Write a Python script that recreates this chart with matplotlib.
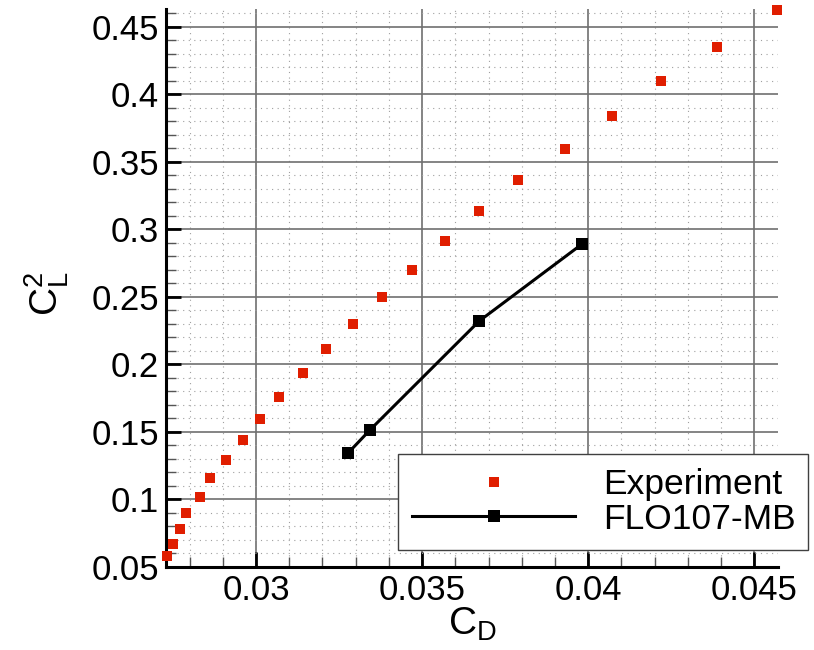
import matplotlib
matplotlib.use('Agg')
import matplotlib.pyplot as plt
from matplotlib.ticker import MultipleLocator

plt.rcParams['font.family'] = ['Liberation Sans', 'DejaVu Sans']
plt.rcParams['mathtext.fontset'] = 'custom'
plt.rcParams['mathtext.rm'] = 'Liberation Sans'
plt.rcParams['mathtext.it'] = 'Liberation Sans'

# experiment data (C_D, C_L^2)
exp_cd = [0.02732, 0.02750, 0.02771, 0.02789, 0.02831, 0.02861, 0.02910, 0.02961,
          0.03012, 0.03069, 0.03142, 0.03211, 0.03292, 0.03380, 0.03470, 0.03569,
          0.03672, 0.03789, 0.03931, 0.04072, 0.04220, 0.04389, 0.04569]
exp_cl2 = [0.0581, 0.0670, 0.0782, 0.0900, 0.1019, 0.1159, 0.1293, 0.1441,
           0.1596, 0.1759, 0.1937, 0.2115, 0.2300, 0.2500, 0.2700, 0.2915,
           0.3137, 0.3367, 0.3596, 0.3841, 0.4100, 0.4352, 0.4626]

# FLO107-MB computation
flo_cd = [0.03277, 0.03343, 0.03672, 0.03982]
flo_cl2 = [0.1344, 0.1515, 0.2322, 0.2893]

xticks = [0.03, 0.035, 0.04, 0.045]
xticklabels = ['0.03', '0.035', '0.04', '0.045']
yticks = [0.05, 0.1, 0.15, 0.2, 0.25, 0.3, 0.35, 0.4, 0.45]
yticklabels = ['0.05', '0.1', '0.15', '0.2', '0.25', '0.3', '0.35', '0.4', '0.45']

fig = plt.figure(figsize=(8.14, 6.5), dpi=100)
ax = fig.add_axes([0.204, 0.1277, 0.752, 0.8585])

ax.plot(exp_cd, exp_cl2, ls='none', marker='s', ms=6.5, mew=0,
        color='#e01e00', label='Experiment', zorder=3, clip_on=False)
ax.plot(flo_cd, flo_cl2, color='black', lw=2.2, marker='s', ms=9, mew=0,
        label='FLO107-MB', zorder=4)

ax.set_xlim(0.02729, 0.04572)
ax.set_ylim(0.05, 0.4633)

ax.xaxis.set_minor_locator(MultipleLocator(0.001))
ax.yaxis.set_minor_locator(MultipleLocator(0.01))
ax.set_xticks(xticks)
ax.set_xticklabels(xticklabels)
ax.set_yticks(yticks)
ax.set_yticklabels(yticklabels)

ax.grid(which='major', color='#707070', lw=1.2, ls='-')
ax.grid(which='minor', color='#a0a0a0', lw=0.8, ls=(0, (1, 4)))
ax.set_axisbelow(True)

for s in ['top', 'right']:
    ax.spines[s].set_visible(False)
for s in ['left', 'bottom']:
    ax.spines[s].set_linewidth(2.2)

ax.tick_params(which='major', direction='in', length=10.5, width=2,
               labelsize=25, pad=5)
ax.tick_params(which='minor', direction='in', length=7, width=1, color='#555555')

ax.set_xlabel(r'$\mathregular{C_D}$', fontsize=28)
ax.set_ylabel(r'$\mathregular{C_L^2}$', fontsize=28)
ax.xaxis.set_label_coords(0.5, -0.07)
ax.yaxis.set_label_coords(-0.155, 0.49)

leg = ax.legend(loc='lower left', bbox_to_anchor=(0.379, 0.0305, 0.67, 0.19),
                mode='expand', fontsize=25.5, numpoints=1, handlelength=4.6,
                handletextpad=0.8, fancybox=False, framealpha=1,
                edgecolor='#404040', borderaxespad=0, labelspacing=0.05)
leg.get_frame().set_linewidth(1)
leg.set_zorder(5)

fig.savefig('out.png', dpi=100)
